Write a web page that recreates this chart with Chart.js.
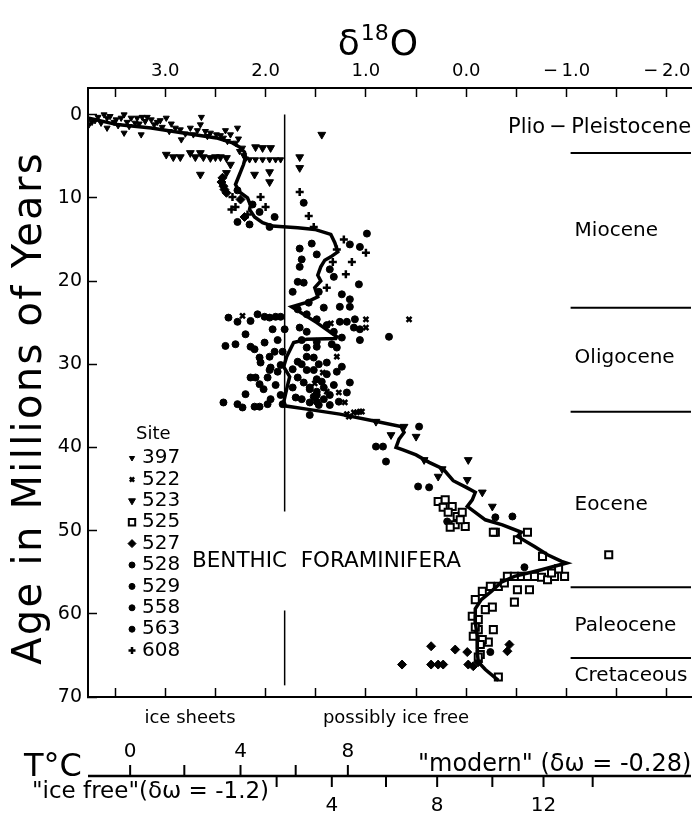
<!DOCTYPE html>
<html>
<head>
<meta charset="utf-8">
<script src="https://cdn.jsdelivr.net/npm/chart.js@4.4.0/dist/chart.umd.min.js"></script>
<style>
  html, body { margin: 0; padding: 0; background: #fff; overflow: hidden; }
  #wrap { width: 698px; height: 822px; }
</style>
</head>
<body>
<div id="wrap"><canvas id="benthicChart" width="698" height="822"></canvas></div>
<script>
// eixos
const deltaTicks = [3.5, 3.0, 2.5, 2.0, 1.5, 1.0, 0.5, 0.0, -0.5, -1.0, -1.5, -2.0];
const ageTicks = [0, 10, 20, 30, 40, 50, 60, 70];

// epocas
const epochNames = ['Plio\u2009\u2212\u2009Pleistocene', 'Miocene', 'Oligocene', 'Eocene', 'Paleocene', 'Cretaceous'];
const epochLabelAges = [1.5, 14.0, 29.2, 46.9, 61.5, 67.5];
const epochBoundaries = [4.6, 23.2, 35.7, 56.8, 65.3];

// linha vertical (limite de gelo)
const iceLineDelta = 1.81;
const iceLineSegments = [[0, 47.7], [59.6, 68.6]];

// escalas de temperatura
const upperTempValues = [0, 2, 4, 6, 8];
const upperTempDelta = [3.35, 2.81, 2.25, 1.70, 1.18];
const upperTempLabels = [0, 4, 8];
const lowerTempValues = [2, 4, 6, 8, 10, 12, 14];
const lowerTempDelta = [1.89, 1.34, 0.80, 0.29, -0.26, -0.77, -1.26];
const lowerTempLabels = [4, 8, 12];

// curva suavizada [delta18O, idade]
const smoothCurve = [
  [3.77,0.4],[3.48,1.2],[3.14,1.6],[2.82,2.2],[2.49,2.8],[2.33,3.4],[2.26,3.9],[2.21,4.5],[2.20,5.1],
  [2.22,6.0],[2.26,7.2],[2.30,8.4],[2.26,9.3],[2.18,10.0],[2.15,10.9],[2.16,11.4],[2.11,12.3],[2.03,13.0],
  [1.93,13.4],[1.79,13.5],[1.68,13.6],[1.51,13.8],[1.35,14.4],[1.31,15.4],[1.28,16.5],[1.35,17.1],[1.41,17.5],
  [1.45,18.3],[1.48,19.3],[1.45,20.0],[1.51,20.8],[1.48,21.9],[1.60,22.6],[1.74,23.1],[1.49,25.0],[1.29,26.7],
  [1.30,26.9],[1.59,27.0],[1.72,27.4],[1.79,29.1],[1.82,30.3],[1.76,31.5],[1.79,33.0],[1.82,34.6],[1.81,35.0],
  [1.59,35.4],[1.26,36.0],[0.93,36.8],[0.65,37.5],[0.62,38.2],[0.67,39.0],[0.70,40.0],[0.63,40.3],[0.50,40.9],
  [0.37,41.8],[0.23,42.6],[0.13,44.0],[0.00,44.8],[-0.09,45.4],[-0.06,46.3],[-0.01,47.1],[-0.09,47.8],
  [-0.19,48.7],[-0.36,49.3],[-0.55,50.2],[-0.51,50.7],[-0.68,51.9],[-0.81,52.9],[-0.95,53.7],[-1.00,53.9],
  [-0.75,54.7],[-0.48,55.5],[-0.35,56.2],[-0.25,57.3],[-0.15,58.3],[-0.09,59.4],[-0.09,61.0],[-0.11,62.7],
  [-0.11,64.6],[-0.12,65.8],[-0.19,66.7],[-0.32,68.0]
];

// sitios [delta18O, idade]
const site397 = [
  [3.73,0.9],[3.67,0.3],[3.61,0.0],[3.58,0.4],[3.51,0.9],[3.44,0.4],[3.41,0.0],[3.38,0.9],[3.34,0.4],[3.28,0.4],
  [3.23,0.3],[3.18,0.3],[3.11,1.2],[3.08,0.9],[3.03,1.5],[2.99,0.4],[3.58,1.6],[3.41,2.2],[3.24,2.4],[2.85,1.8],
  [2.84,3.0],[2.75,1.6],[2.72,2.4],[2.64,0.3],[2.65,1.2],[2.55,2.2],[2.49,2.4],[2.42,2.8],[2.35,2.4],[2.28,1.6],
  [2.23,4.0],[3.76,1.2],[3.70,0.7],[3.55,0.2],[3.47,1.3],[3.30,1.0],[3.20,0.8],[3.14,0.6],[2.94,1.1],[2.90,1.6],
  [2.80,2.3],[2.60,2.0],[2.45,2.5],[2.38,3.2],[2.30,3.4],[2.26,4.4],[2.22,4.9],[2.20,5.3],
  [2.16,5.4],[2.10,5.4],[2.03,5.4],[1.96,5.4],[1.90,5.4],[1.85,5.4],
  [3.64,1.0],[3.49,0.6],[3.36,1.4],[3.26,1.1],[3.05,0.7],[2.96,2.0],[2.68,1.9],[2.58,2.6],[2.40,1.9],[2.27,2.9]
];
const site522 = [
  [2.23,24.2],[1.00,24.6],[1.00,25.6],[0.57,24.6],[1.29,29.1],[1.27,33.4],[1.21,34.6],[1.19,36.0],[1.12,35.8],
  [1.06,35.7],[1.17,36.3],[1.09,35.8],[1.04,35.7],[1.51,32.3],[1.39,33.3],[1.35,25.1],[1.43,31.0]
];
const site523 = [
  [2.99,4.8],[2.92,5.1],[2.85,5.1],[2.75,4.6],[2.70,5.1],[2.65,4.6],[2.62,5.1],[2.55,5.2],[2.50,5.1],[2.45,5.1],
  [2.39,5.2],[2.35,6.0],[2.65,7.2],[2.39,7.0],[2.10,3.9],[2.03,4.0],[1.95,4.0],[2.11,7.2],[1.96,6.9],[1.96,8.1],
  [1.66,5.1],[1.66,6.4],[1.44,2.4],
  [0.75,38.5],[0.50,38.7],[0.42,41.5],[0.24,42.6],[-0.02,41.5],[0.28,43.5],[-0.01,43.9],[-0.16,45.4],[-0.26,47.1],
  [0.62,37.5],[0.90,36.9]
];
const site525 = [
  [0.28,46.5],[0.23,47.2],[0.14,47.1],[0.18,47.8],[0.09,48.3],[0.11,49.3],[0.01,49.5],[0.04,47.8],[-0.29,50.2],
  [-0.51,51.1],[-0.27,50.2],[-0.61,50.2],[-0.76,53.1],[-0.41,55.5],[-0.48,55.5],[-0.55,55.5],[-0.61,55.5],
  [-0.68,55.5],[-0.75,55.6],[-0.81,55.9],[-0.88,55.5],[-0.98,55.5],[-1.42,52.9],[-0.51,57.1],[-0.63,57.1],
  [-0.48,58.6],[-0.26,59.2],[-0.06,60.3],[-0.27,61.9],[-0.22,63.4],[-0.12,61.9],[-0.16,63.1],[-0.19,59.5],
  [-0.09,58.3],[-0.16,57.3],[-0.24,56.7],[-0.32,56.7],[-0.32,67.6],[-0.14,64.9],
  [0.21,46.3],[0.06,48.7],[0.16,49.6],[-0.12,60.7],[-0.09,61.6],[-0.14,63.7],[-0.12,65.2],[-0.07,62.7],
  [-0.92,54.6],[-0.85,55.1],[-0.38,56.3]
];
const site527 = [
  [2.44,8.1],[2.42,8.6],[2.41,9.0],[2.39,9.4],[2.43,7.6],[2.25,10.2],[2.21,12.3],[-0.41,64.5],[-0.43,63.7],
  [0.35,63.9],[0.11,64.3],[-0.01,64.6],[0.64,66.1],[0.35,66.1],[0.28,66.1],[0.23,66.1],[-0.02,66.1],[-0.07,66.3],
  [-0.12,65.8]
];
const site528 = [
  [0.90,39.9],[0.83,39.9],[0.80,41.7],[0.48,44.7],[0.37,44.8],[0.19,48.9],[-0.29,48.4],[-0.46,48.3],[-0.58,54.4],
  [0.47,37.5],[-0.24,64.6]
];
const site529 = [
  [2.15,24.8],[2.08,24.0],[2.01,24.3],[1.96,24.4],[1.90,24.3],[1.85,24.3],[2.40,27.8],[2.15,27.9],[2.11,28.2],
  [2.06,29.2],[2.05,29.8],[1.96,29.1],[1.95,30.4],[2.15,31.6],[2.10,31.6],[1.98,31.6],[1.96,30.7],[1.91,28.5],
  [1.83,28.5],[2.42,34.6],[2.28,34.8],[2.23,35.2],[2.11,35.1],[2.06,35.1],[1.98,34.8],[1.95,34.2],
  [2.37,24.4],[2.28,24.9],[1.81,25.8],[1.88,27.1],[1.85,30.1],[1.90,32.5],[1.85,33.7],[2.02,33.0],[2.20,33.6],
  [2.06,32.4],[1.83,34.8],[1.88,30.9],[2.01,27.4],[1.93,25.8],[2.20,26.4],[2.30,27.6]
];
const site558 = [
  [1.66,16.1],[1.54,15.5],[1.66,18.3],[1.32,19.5],[1.73,21.3],[1.62,20.2],[1.57,22.6],[1.26,23.1],[1.16,23.1],
  [1.16,22.2],[1.42,23.2],[1.26,24.9],[1.19,24.9],[1.11,24.6],[1.12,25.6],[1.06,25.8],[1.06,27.1],[0.77,26.7],
  [1.59,28.0],[1.49,27.9],[1.29,28.0],[1.59,29.1],[1.52,29.2],[1.39,29.8],[1.16,32.2],[1.66,25.6],[1.59,26.1],
  [1.68,23.4],[1.59,24.0],[1.49,24.6],[1.39,25.3],[1.32,26.1],[1.24,26.8],[1.64,27.1],[1.49,27.3],[1.34,27.6],
  [1.64,17.4],[1.49,16.8],[1.36,18.6],[1.68,20.1],[1.24,21.6],[1.47,21.3],[1.07,20.4]
];
const site563 = [
  [1.62,10.6],[1.91,12.3],[2.28,12.9],[2.16,13.2],[1.96,13.5],[0.99,14.3],[1.16,15.6],[1.06,15.9],[1.59,30.7],
  [1.52,30.7],[1.49,31.8],[1.44,32.1],[1.56,33.0],[1.49,33.7],[1.42,34.2],[1.56,34.6],[1.49,34.5],[1.27,34.5],
  [1.19,33.4],[1.56,36.1],
  [1.62,32.2],[1.56,32.8],[1.49,33.3],[1.42,32.8],[1.36,33.7],[1.52,33.9],[1.64,34.2],[1.47,34.9],[1.36,34.9],
  [1.32,32.5],[1.39,31.2],[1.68,31.6],[1.73,32.8],[1.70,34.0],[1.29,30.9],[1.68,29.7],[1.64,30.0],[1.73,30.6],
  [1.47,30.0],[1.24,30.3],[2.28,9.1],[2.13,10.8],[2.06,11.7]
];
const site608 = [
  [1.66,9.3],[1.57,12.2],[1.52,13.5],[2.05,9.9],[2.00,11.1],[2.34,11.4],[1.00,16.6],[1.20,19.2],[1.39,20.8],
  [1.29,16.2],[1.33,17.7],[1.22,15.0],[1.14,17.7],[2.33,9.9],[2.18,12.0],[2.30,11.1]
];

const siteNames = ['397', '522', '523', '525', '527', '528', '529', '558', '563', '608'];
const siteData = [site397, site522, site523, site525, site527, site528, site529, site558, site563, site608];

// estilo dos marcadores de cada sitio
const siteStyles = [
  { pointStyle: 'triangle', rotation: 180, radius: 3.5, fill: '#000', width: 1 },
  { pointStyle: 'crossRot', rotation: 0, radius: 3.5, fill: '#000', width: 2.5 },
  { pointStyle: 'triangle', rotation: 180, radius: 4.5, fill: '#000', width: 1 },
  { pointStyle: 'rect', rotation: 0, radius: 5, fill: '#fff', width: 2 },
  { pointStyle: 'rectRot', rotation: 0, radius: 4.5, fill: '#000', width: 1 },
  { pointStyle: 'circle', rotation: 0, radius: 3.5, fill: '#000', width: 1 },
  { pointStyle: 'circle', rotation: 0, radius: 3.5, fill: '#000', width: 1 },
  { pointStyle: 'circle', rotation: 0, radius: 3.5, fill: '#000', width: 1 },
  { pointStyle: 'circle', rotation: 0, radius: 3.5, fill: '#000', width: 1 },
  { pointStyle: 'cross', rotation: 0, radius: 4, fill: '#000', width: 2.5 }
];

const FONT = 'DejaVu Sans';
Chart.defaults.font.family = FONT;
Chart.defaults.color = '#000';

function fmtDelta(v) {
  if (!Number.isInteger(v)) return '';
  return (v < 0 ? '\u2212\u2009' : '') + Math.abs(v).toFixed(1);
}

// sem folga extra nas bordas da area do grafico
function noPadding(s) {
  s.paddingLeft = 0; s.paddingRight = 0; s.paddingTop = 0; s.paddingBottom = 0;
}

// textos, linhas das epocas, escalas de temperatura e legenda
const annotations = {
  id: 'annotations',
  beforeDatasetsDraw(chart) {
    const { ctx, scales: { x, y } } = chart;
    ctx.save();
    ctx.strokeStyle = '#000';
    ctx.lineWidth = 1.5;
    const px = x.getPixelForValue(iceLineDelta);
    iceLineSegments.forEach(([a0, a1]) => {
      ctx.beginPath();
      ctx.moveTo(px, y.getPixelForValue(a0));
      ctx.lineTo(px, y.getPixelForValue(a1));
      ctx.stroke();
    });
    ctx.restore();
  },
  afterDraw(chart) {
    const { ctx, chartArea: area, scales: { x, y } } = chart;
    ctx.save();
    ctx.fillStyle = '#000';
    ctx.strokeStyle = '#000';

    // titulo delta 18 O
    ctx.textBaseline = 'alphabetic';
    ctx.font = '36px ' + FONT;
    const wD = ctx.measureText('\u03b4').width;
    const wO = ctx.measureText('O').width;
    ctx.font = '22px ' + FONT;
    const w18 = ctx.measureText('18').width;
    let tx = 378 - (wD + w18 + wO + 2) / 2;
    ctx.font = '36px ' + FONT;
    ctx.fillText('\u03b4', tx, 55);
    ctx.font = '22px ' + FONT;
    ctx.fillText('18', tx + wD + 1, 40);
    ctx.font = '36px ' + FONT;
    ctx.fillText('O', tx + wD + w18 + 2, 55);

    // titulo eixo y
    ctx.save();
    ctx.translate(31, 408);
    ctx.rotate(-Math.PI / 2);
    ctx.font = '40px ' + FONT;
    ctx.letterSpacing = '2.3px';
    ctx.textAlign = 'center';
    ctx.textBaseline = 'middle';
    ctx.fillText('Age in Millions of Years', 0, 0);
    ctx.restore();

    // epocas
    ctx.lineWidth = 2;
    const xEpoch = x.getPixelForValue(-1.04);
    epochBoundaries.forEach(a => {
      const py = y.getPixelForValue(a);
      ctx.beginPath();
      ctx.moveTo(xEpoch, py);
      ctx.lineTo(area.right, py);
      ctx.stroke();
    });
    ctx.textBaseline = 'middle';
    ctx.textAlign = 'left';
    epochNames.forEach((name, i) => {
      ctx.font = (i === 0 ? '21px ' : '20px ') + FONT;
      const left = i === 0 ? 508 : xEpoch + 4;
      ctx.fillText(name, left, y.getPixelForValue(epochLabelAges[i]));
    });

    // BENTHIC FORAMINIFERA
    ctx.font = '21.5px ' + FONT;
    ctx.fillText('BENTHIC  FORAMINIFERA', 192, 561);

    // legenda dos sitios
    ctx.font = '18px ' + FONT;
    ctx.fillText('Site', 136, 434);
    ctx.font = '20px ' + FONT;
    siteNames.forEach((name, i) => {
      const ly = 458 + 21.4 * i;
      const st = siteStyles[i];
      ctx.fillStyle = st.fill;
      ctx.lineWidth = st.width;
      Chart.helpers.drawPoint(ctx, { pointStyle: st.pointStyle, radius: st.radius - 0.5, rotation: st.rotation, borderWidth: st.width }, 132, ly);
      ctx.fillStyle = '#000';
      ctx.fillText(name, 142, ly);
    });

    // textos abaixo do eixo
    ctx.font = '18px ' + FONT;
    ctx.textAlign = 'center';
    ctx.fillText('ice sheets', 190, 718);
    ctx.fillText('possibly ice free', 396, 718);

    // escalas de temperatura
    const tY = 776;
    ctx.lineWidth = 2.5;
    ctx.beginPath();
    ctx.moveTo(area.left, tY);
    ctx.lineTo(area.right, tY);
    ctx.stroke();
    ctx.lineWidth = 2;
    ctx.font = '20px ' + FONT;
    upperTempValues.forEach((t, i) => {
      const px = x.getPixelForValue(upperTempDelta[i]);
      ctx.beginPath();
      ctx.moveTo(px, tY);
      ctx.lineTo(px, tY - 11);
      ctx.stroke();
      if (upperTempLabels.includes(t)) ctx.fillText(String(t), px, 752);
    });
    lowerTempValues.forEach((t, i) => {
      const px = x.getPixelForValue(lowerTempDelta[i]);
      ctx.beginPath();
      ctx.moveTo(px, tY);
      ctx.lineTo(px, tY + 11);
      ctx.stroke();
      if (lowerTempLabels.includes(t)) ctx.fillText(String(t), px, 806);
    });
    ctx.textAlign = 'left';
    ctx.font = '32px ' + FONT;
    ctx.fillText('T\u00b0C', 24, 768);
    ctx.font = '24px ' + FONT;
    ctx.fillText('"modern" (\u03b4\u03c9 = -0.28)', 418, 765);
    ctx.font = '23px ' + FONT;
    ctx.fillText('"ice free"(\u03b4\u03c9 = -1.2)', 32, 792);

    ctx.restore();
  }
};

const datasets = [{
  label: 'curve',
  data: smoothCurve.map(([d, a]) => ({ x: d, y: a })),
  showLine: true,
  borderColor: '#000',
  borderWidth: 3.5,
  pointRadius: 0,
  tension: 0
}];
siteNames.forEach((name, i) => {
  const st = siteStyles[i];
  datasets.push({
    label: 'Site ' + name,
    data: siteData[i].map(([d, a]) => ({ x: d, y: a })),
    showLine: false,
    pointStyle: st.pointStyle,
    pointRotation: st.rotation,
    pointRadius: st.radius,
    pointBorderWidth: st.width,
    backgroundColor: st.fill,
    borderColor: '#000'
  });
});

const ctxBenthic = document.getElementById('benthicChart').getContext('2d');
new Chart(ctxBenthic, {
  type: 'scatter',
  data: { datasets: datasets },
  options: {
    responsive: false,
    animation: false,
    events: [],
    layout: { padding: 0 },
    plugins: { legend: { display: false }, tooltip: { enabled: false } },
    scales: {
      x: {
        type: 'linear', position: 'top', reverse: true, min: -2.24, max: 3.77,
        afterBuildTicks: s => { s.ticks = deltaTicks.map(v => ({ value: v })); },
        afterFit: s => { s.height = 88; noPadding(s); },
        ticks: { callback: v => fmtDelta(v), font: { size: 18 }, color: '#000', padding: 15, autoSkip: false, maxRotation: 0 },
        grid: { drawOnChartArea: false, tickLength: -9, tickWidth: 1.5, tickColor: '#000' },
        border: { color: '#000', width: 2 }
      },
      x2: {
        type: 'linear', position: 'bottom', reverse: true, min: -2.24, max: 3.77,
        afterBuildTicks: s => { s.ticks = deltaTicks.map(v => ({ value: v })); },
        afterFit: s => { s.height = 125; noPadding(s); },
        ticks: { display: false },
        grid: { drawOnChartArea: false, tickLength: -9, tickWidth: 1.5, tickColor: '#000' },
        border: { color: '#000', width: 2 }
      },
      y: {
        type: 'linear', position: 'left', reverse: true, min: -3.2, max: 70,
        afterBuildTicks: s => { s.ticks = ageTicks.map(v => ({ value: v })); },
        afterFit: s => { s.width = 88; noPadding(s); },
        ticks: { font: { size: 19 }, color: '#000', padding: 15, autoSkip: false },
        grid: { drawOnChartArea: false, tickLength: -9, tickWidth: 1.5, tickColor: '#000' },
        border: { color: '#000', width: 2 }
      }
    }
  },
  plugins: [annotations]
});
</script>
</body>
</html>
